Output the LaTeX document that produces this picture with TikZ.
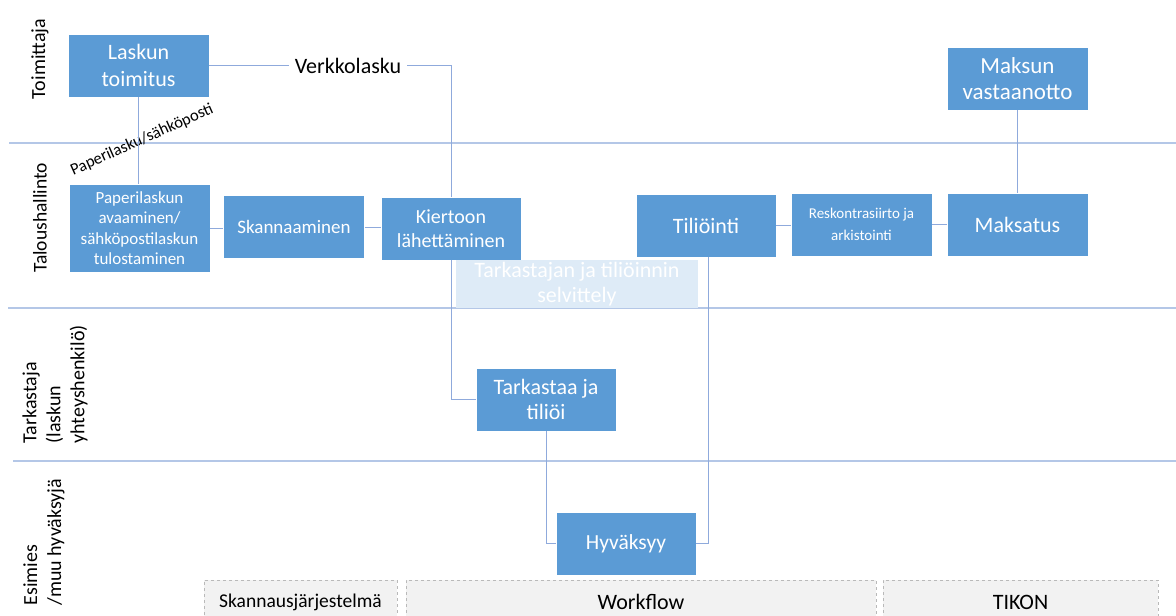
\documentclass[tikz,border=0pt]{standalone}
\usepackage{fontspec}
\setmainfont{Carlito}
\usetikzlibrary{positioning}
\definecolor{procblue}{HTML}{5B9BD5}
\definecolor{paleblue}{HTML}{DEEBF7}
\definecolor{laneblue}{HTML}{B4C7E7}
\definecolor{linkblue}{HTML}{8FAADC}
\definecolor{sysgray}{HTML}{F2F2F2}
\newcommand{\fs}[2]{\fontsize{#1}{#2}\selectfont}
\tikzset{
  proc/.style={draw=white, line width=0.8pt, fill=procblue, text=white,
    minimum width=141pt, minimum height=63pt, align=center, inner sep=2pt,
    font=\fs{22}{26}},
  link/.style={draw=linkblue, line width=0.8pt},
  lane/.style={draw=laneblue, line width=1.4pt},
  lanelabel/.style={rotate=90, align=left, font=\fs{20}{24}},
  sysbox/.style={draw=gray!55, dashed, fill=sysgray, minimum height=44pt,
    inner sep=0pt, font=\fs{22}{24}}
}
\begin{document}
\begin{tikzpicture}[x=1pt, y=-1pt]
    \useasboundingbox (0,0) rectangle (1176,616);
    \clip (0,0) rectangle (1176,616);
    % Swimlane borders
    \draw[lane] (9,143) -- (1176,143);
    \draw[lane] (8,308) -- (1176,308);
    \draw[lane] (13,461) -- (1176,461);
    % Lane labels
    \node[lanelabel] (ltoim) at (40,59) {Toimittaja};
    \node[lanelabel, font=\fs{19.5}{24}] (ltalous) at (40,218) {Taloushallinto};
    \node[lanelabel, anchor=west] (ltark) at (55,447) {Tarkastaja\\(laskun\\yhteyshenkilö)};
    \node[lanelabel, anchor=west] (lesim) at (44,609) {Esimies\\/muu hyväksyjä};
    % Process steps
    \node[proc, font=\fs{22}{27}] (toimitus) at (138.5,65.5) {Laskun\\toimitus};
    \node[proc, minimum height=88pt, font=\fs{17}{20.5}] (paperi) at (139.5,228) {Paperilaskun\\avaaminen/\\sähköpostilaskun\\tulostaminen};
    \node[proc, font=\fs{19}{22}] (skann) at (294,227) {Skannaaminen};
    \node[proc, minimum width=140pt, font=\fs{20}{24}] (kierto) at (451,228.5) {Kiertoon\\lähettäminen};
    \node[proc, draw=none, fill=paleblue, minimum width=242pt, minimum height=45pt, font=\fs{22}{25}] (selv) at (577,284) {Tarkastajan ja tiliöinnin\\selvittely};
    \node[proc, minimum width=140pt] (tili) at (706,225.5) {Tiliöinti};
    \node[proc, font=\fs{15}{22}] (resk) at (861.5,224.5) {Reskontrasiirto ja\\arkistointi};
    \node[proc, minimum width=141pt] (maks) at (1017.5,224.5) {Maksatus};
    \node[proc, minimum width=141pt, font=\fs{23}{26}] (vast) at (1017.5,78.5) {Maksun\\vastaanotto};
    \node[proc, minimum width=140pt, font=\fs{22}{25}] (tark) at (546,399.5) {Tarkastaa ja\\tiliöi};
    \node[proc, minimum width=140pt, font=\fs{21.5}{24}] (hyv) at (626,543.5) {Hyväksyy};
    % Delivery channels
    \node[font=\fs{22}{24}, inner sep=6pt] (verkko) at (348,65.5) {Verkkolasku};
    \node[rotate=24, font=\fs{16.5}{18}] (paperilbl) at (142,140) {Paperilasku/sähköposti};
    % Connectors
    \draw[link] (toimitus.east) -- (verkko.west);
    \draw[link] (verkko.east) -| (kierto.north);
    \draw[link] (toimitus.south) -- (toimitus.south |- paperi.north);
    \draw[link] (paperi.east) -- (skann.west |- paperi.east);
    \draw[link] (skann.east) -- (kierto.west |- skann.east);
    \draw[link] (kierto.south) |- (tark.west);
    \draw[link] (tark.south) |- (hyv.west);
    \draw[link] (hyv.east) -| ([xshift=2pt]tili.south);
    \draw[link] (tili.east) -- (resk.west |- tili.east);
    \draw[link] (resk.east) -- (maks.west |- resk.east);
    \draw[link] (maks.north) -- (vast.south);
    % Systems
    \node[sysbox, minimum width=193pt, font=\fs{19.5}{22}] (sysskann) at (300.5,602) {Skannausjärjestelmä};
    \node[sysbox, minimum width=470pt] (sysflow) at (641,602) {Workflow};
    \node[sysbox, minimum width=275pt] (systikon) at (1020.5,602) {TIKON};
\end{tikzpicture}
\end{document}
